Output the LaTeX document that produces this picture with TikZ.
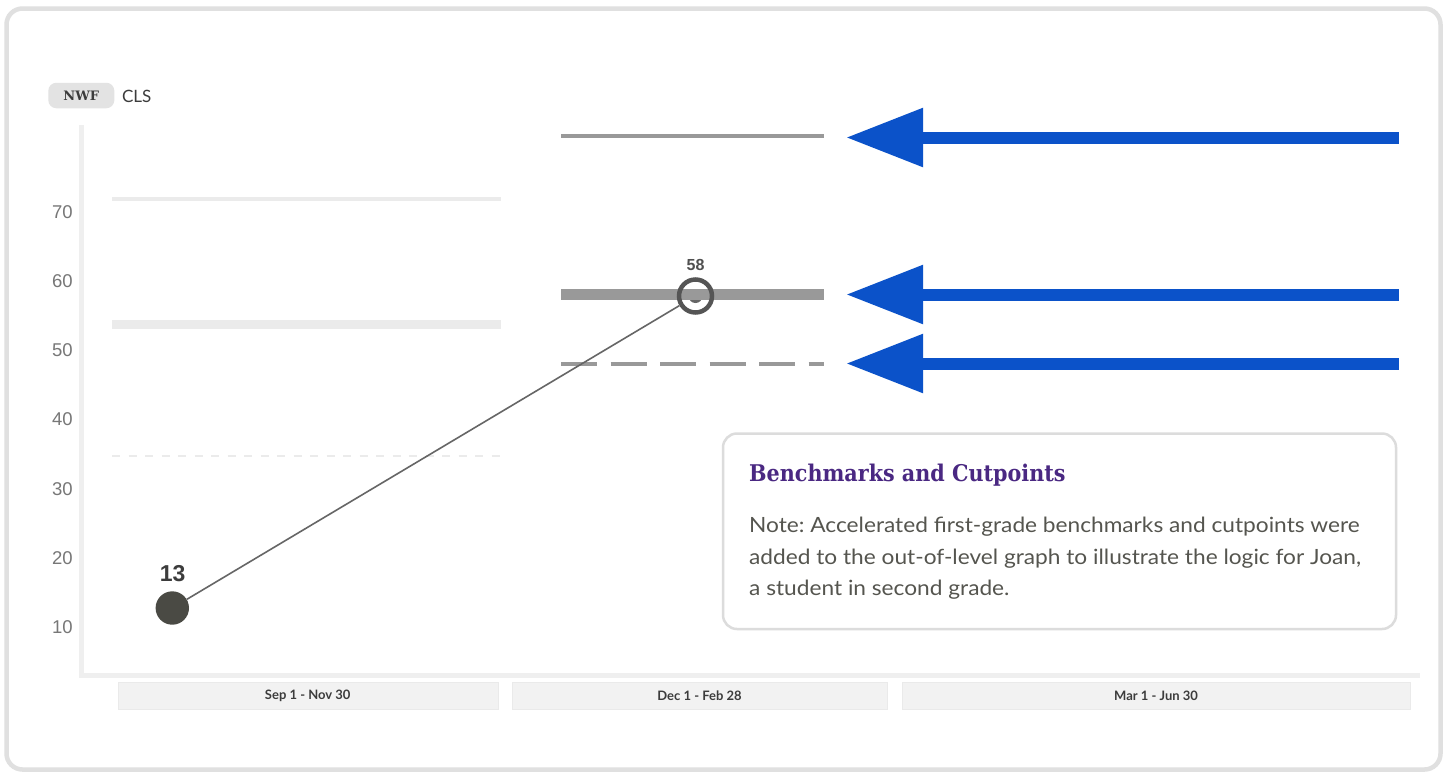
\documentclass[tikz,border=0pt]{standalone}
\usepackage{fontspec}
\setmainfont{Lato}
\newfontfamily\arialf{Liberation Sans}
\newfontfamily\slabf{DejaVu Serif}
\newfontfamily\slabtitle{DejaVu Serif}[FakeStretch=0.9]
\newfontfamily\notef{Lato}[FakeStretch=1.08]
\usetikzlibrary{arrows.meta}
\frenchspacing
\definecolor{framegray}{HTML}{E0E0E0}
\definecolor{axisgray}{HTML}{EFEFEF}
\definecolor{leftline}{HTML}{EBEBEB}
\definecolor{midline}{HTML}{999999}
\definecolor{pillgray}{HTML}{E3E3E3}
\definecolor{labgray}{HTML}{F2F2F2}
\definecolor{labborder}{HTML}{EAEAEA}
\definecolor{ytext}{HTML}{777777}
\definecolor{darktext}{HTML}{3C3C3C}
\definecolor{dotfill}{HTML}{4A4A44}
\definecolor{ringgray}{HTML}{555555}
\definecolor{blueA}{HTML}{0B52C9}
\definecolor{notegray}{HTML}{DCDCDC}
\definecolor{notetext}{HTML}{55554F}
\definecolor{purpletitle}{HTML}{4A2882}
\tikzset{
  ylab/.style={text=ytext, font=\arialf\fontsize{18.5}{19}\selectfont, inner sep=0pt},
  xlabbox/.style={fill=labgray, draw=labborder, line width=1pt},
  xlab/.style={text=darktext, font=\bfseries\fontsize{13}{14}\selectfont, inner sep=0pt},
  bluearrow/.style={draw=blueA, line width=12pt, -{Triangle[length=77pt,width=56pt]}},
  notebody/.style={text=notetext, font=\notef\fontsize{21}{24}\selectfont, inner sep=0pt, anchor=base west},
}
\begin{document}
\begin{tikzpicture}[x=1pt,y=-1pt]
\useasboundingbox (0,0) rectangle (1447,772);
\fill[white] (0,0) rectangle (1447,772);
% outer frame
\draw[framegray, line width=4.5pt, rounded corners=16pt] (6.5,8.5) rectangle (1440.5,769.5);

% header
\node[fill=pillgray, rounded corners=8pt, minimum width=66pt, minimum height=25.5pt, inner sep=0pt,
      text=darktext, font=\slabf\bfseries\fontsize{13}{13}\selectfont] (nwf) at (81.3,95.5) {NWF};
\node[text=darktext, font=\fontsize{17}{17}\selectfont, inner sep=0pt] (cls) at (136.7,96) {CLS};

% axes
\draw[axisgray, line width=4.5pt] (81.7,125) -- (81.7,675.5) -- (1420,675.5);

% y labels
\node[ylab] (y70) at (62.5,212) {70};
\node[ylab] (y60) at (62.5,281.5) {60};
\node[ylab] (y50) at (62.5,350.5) {50};
\node[ylab] (y40) at (62.5,419.5) {40};
\node[ylab] (y30) at (62.5,489) {30};
\node[ylab] (y20) at (62.5,558) {20};
\node[ylab] (y10) at (62.5,627.5) {10};

% first period benchmark lines (light)
\draw[leftline, line width=4pt] (112,199) -- (501,199);
\draw[leftline, line width=9pt] (112,324.5) -- (501,324.5);
\draw[leftline, line width=2.5pt, dash pattern=on 8pt off 8.5pt] (112,456) -- (501,456);

% second period benchmark lines
\draw[midline, line width=4.5pt] (561,136) -- (824,136);
\draw[midline, line width=4.5pt, dash pattern=on 36pt off 13.5pt] (561,364) -- (824,364);

% data
\node[circle, fill=dotfill, inner sep=0pt, minimum size=33.4pt] (d13) at (172.3,608) {};
\node[circle, inner sep=0pt, minimum size=37.5pt] (d58) at (695.5,296) {};
\draw[color=ringgray!90, line width=1.6pt] (d13) -- (d58);
\fill[ringgray!90] (d58.center) circle (7pt);
\draw[midline, line width=11pt] (561,294.5) -- (824,294.5);
\draw[ringgray, line width=4.5pt] (d58.center) circle (16.5pt);
\node[text=darktext, font=\arialf\bfseries\fontsize{23}{23}\selectfont, inner sep=0pt] (l13) at (172.7,573.3) {13};
\node[text=darktext!90, font=\arialf\bfseries\fontsize{16}{16}\selectfont, inner sep=0pt] (l58) at (695.5,265.3) {58};

% blue arrows
\coordinate (a1s) at (1398.5,137.5); \coordinate (a1t) at (846,137.5);
\coordinate (a2s) at (1398.5,294.5); \coordinate (a2t) at (846,294.5);
\coordinate (a3s) at (1398.5,363.5); \coordinate (a3t) at (846,363.5);
\draw[bluearrow] (a1s) -- (a1t);
\draw[bluearrow] (a2s) -- (a2t);
\draw[bluearrow] (a3s) -- (a3t);

% note box
\draw[notegray, line width=2.5pt, fill=white, rounded corners=14pt] (723,433.5) rectangle (1396,629);
\node[text=purpletitle, font=\slabtitle\bfseries\fontsize{23}{26}\selectfont, inner sep=0pt, anchor=base west] (title) at (749,481.7) {Benchmarks and Cutpoints};
\node[notebody] (n1) at (749,532.3) {Note: Accelerated first-grade benchmarks and cutpoints were};
\node[notebody] (n2) at (749,564) {added to the out-of-level graph to illustrate the logic for Joan,};
\node[notebody] (n3) at (749,595) {a student in second grade.};

% x labels
\draw[xlabbox] (118.3,682.7) rectangle (498,709.3);
\draw[xlabbox] (512,682.7) rectangle (887,709.3);
\draw[xlabbox] (902,682.7) rectangle (1410,709.3);
\node[xlab] (xl1) at (307.7,695.7) {Sep 1 - Nov 30};
\node[xlab] (xl2) at (699.5,695.7) {Dec 1 - Feb 28};
\node[xlab] (xl3) at (1156,695.7) {Mar 1 - Jun 30};
\end{tikzpicture}
\end{document}
